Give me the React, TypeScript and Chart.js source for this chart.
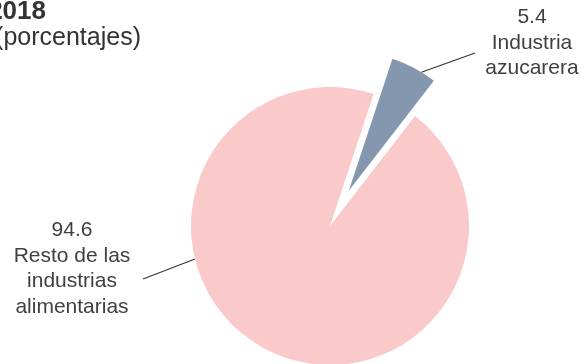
import React, { useEffect, useRef } from "react";
import { Chart, registerables } from "chart.js";

Chart.register(...registerables);

const categories = ["Industria azucarera", "Resto de las industrias alimentarias"];
const values = [5.4, 94.6];
const labelLines = [
  ["5.4", "Industria", "azucarera"],
  ["94.6", "Resto de las", "industrias", "alimentarias"],
];
const sliceColors = ["#8497AE", "#FAC9CA"];
const titleLines = ["2018", "(porcentajes)"];

const EXPLODE = 40;
const FONT = "'Liberation Sans', Arial, Helvetica, sans-serif";
const TEXT_COLOR = "#404040";

// leader-line layout: angle (clockwise from top) where the line leaves the slice,
// end point of the line, and the text block centre/first baseline
const leaders = [
  { angle: 31.5, ex: 475, ey: 53, tx: 532, ty: 23 },
  { angle: 256.3, ex: 143, ey: 279, tx: 72, ty: 236 },
];

const explodePlugin = {
  id: "explodeSlice",
  afterUpdate(chart: any) {
    const meta = chart.getDatasetMeta(0);
    const arc = meta.data[0];
    if (!arc) return;
    const mid = (arc.startAngle + arc.endAngle) / 2;
    arc.x += Math.cos(mid) * EXPLODE;
    arc.y += Math.sin(mid) * EXPLODE;
  },
};

const labelPlugin = {
  id: "sliceLabels",
  afterDraw(chart: any) {
    const ctx = chart.ctx;
    const meta = chart.getDatasetMeta(0);
    ctx.save();
    meta.data.forEach((arc: any, i: number) => {
      const L = leaders[i];
      const a = (L.angle * Math.PI) / 180 - Math.PI / 2;
      const sx = arc.x + Math.cos(a) * arc.outerRadius;
      const sy = arc.y + Math.sin(a) * arc.outerRadius;
      ctx.strokeStyle = "#333333";
      ctx.lineWidth = 1.1;
      ctx.beginPath();
      ctx.moveTo(sx, sy);
      ctx.lineTo(L.ex, L.ey);
      ctx.stroke();
      ctx.fillStyle = TEXT_COLOR;
      ctx.font = `21px ${FONT}`;
      ctx.textAlign = "center";
      ctx.textBaseline = "alphabetic";
      labelLines[i].forEach((t, j) => {
        ctx.fillText(t, L.tx, L.ty + j * 25.5);
      });
    });
    // title (cut off at the left edge as in the reference)
    ctx.fillStyle = "#333333";
    ctx.textAlign = "right";
    ctx.font = `bold 26px ${FONT}`;
    ctx.fillText(titleLines[0], 46, 19);
    ctx.font = `25px ${FONT}`;
    ctx.fillText(titleLines[1], 141, 45);
    ctx.restore();
  },
};

export default function App() {
  const ref = useRef<HTMLCanvasElement>(null);
  useEffect(() => {
    if (!ref.current) return;
    const chart = new Chart(ref.current, {
      type: "pie",
      data: {
        labels: categories,
        datasets: [
          {
            data: values,
            backgroundColor: sliceColors,
            borderWidth: 0,
            hoverBorderWidth: 0,
            hoverOffset: 0,
            offset: 0,
            clip: false,
          } as any,
        ],
      },
      options: {
        animation: false,
        responsive: false,
        events: [],
        rotation: 18.3,
        radius: 139,
        layout: { padding: { left: 74, top: 88, right: 0, bottom: 0 } },
        plugins: {
          legend: { display: false },
          tooltip: { enabled: false },
          title: { display: false },
        },
      } as any,
      plugins: [explodePlugin, labelPlugin],
    });
    return () => chart.destroy();
  }, []);
  return (
    <div style={{ position: "fixed", left: 0, top: 0, width: 586, height: 364, background: "#fff" }}>
      <canvas ref={ref} width={586} height={364} style={{ display: "block", width: 586, height: 364 }} />
    </div>
  );
}
